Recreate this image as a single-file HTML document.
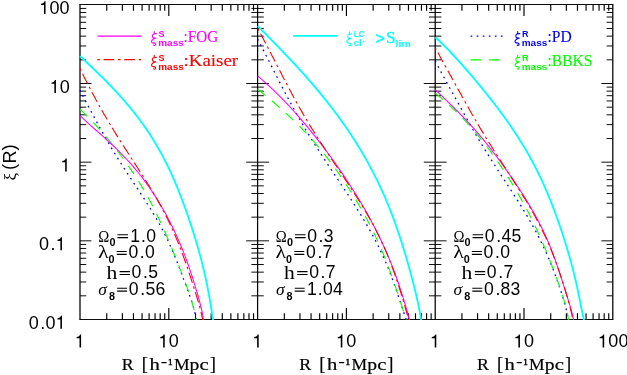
<!DOCTYPE html>
<html><head><meta charset="utf-8"><title>xi(R)</title>
<style>html,body{margin:0;padding:0;background:#fff;}body{width:627px;height:375px;overflow:hidden;}svg{display:block;will-change:transform;}text{font-family:"Liberation Sans",sans-serif;}.sf{font-family:"Liberation Serif",serif;}.sb{font-family:"Liberation Sans",sans-serif;font-weight:bold;}</style></head><body>
<svg width="627" height="375" viewBox="0 0 627 375">
<rect width="627" height="375" fill="#fff"/>
<defs><clipPath id="cp"><rect x="77.0" y="4.5" width="535.8" height="315.55"/></clipPath></defs>
<path d="M80.00,295.82H86.20M80.00,281.97H86.20M80.00,272.14H86.20M80.00,264.52H86.20M80.00,258.29H86.20M80.00,253.02H86.20M80.00,248.46H86.20M80.00,244.44H86.20M80.00,240.84H91.40M80.00,217.16H86.20M80.00,203.31H86.20M80.00,193.48H86.20M80.00,185.85H86.20M80.00,179.63H86.20M80.00,174.36H86.20M80.00,169.80H86.20M80.00,165.77H86.20M80.00,162.18H91.40M80.00,138.50H86.20M80.00,124.64H86.20M80.00,114.82H86.20M80.00,107.19H86.20M80.00,100.96H86.20M80.00,95.70H86.20M80.00,91.14H86.20M80.00,87.11H86.20M80.00,83.51H91.40M80.00,59.83H86.20M80.00,45.98H86.20M80.00,36.15H86.20M80.00,28.53H86.20M80.00,22.30H86.20M80.00,17.03H86.20M80.00,12.47H86.20M80.00,8.45H86.20M257.60,295.82H263.80M251.40,295.82H257.60M257.60,281.97H263.80M251.40,281.97H257.60M257.60,272.14H263.80M251.40,272.14H257.60M257.60,264.52H263.80M251.40,264.52H257.60M257.60,258.29H263.80M251.40,258.29H257.60M257.60,253.02H263.80M251.40,253.02H257.60M257.60,248.46H263.80M251.40,248.46H257.60M257.60,244.44H263.80M251.40,244.44H257.60M257.60,240.84H269.00M246.20,240.84H257.60M257.60,217.16H263.80M251.40,217.16H257.60M257.60,203.31H263.80M251.40,203.31H257.60M257.60,193.48H263.80M251.40,193.48H257.60M257.60,185.85H263.80M251.40,185.85H257.60M257.60,179.63H263.80M251.40,179.63H257.60M257.60,174.36H263.80M251.40,174.36H257.60M257.60,169.80H263.80M251.40,169.80H257.60M257.60,165.77H263.80M251.40,165.77H257.60M257.60,162.18H269.00M246.20,162.18H257.60M257.60,138.50H263.80M251.40,138.50H257.60M257.60,124.64H263.80M251.40,124.64H257.60M257.60,114.82H263.80M251.40,114.82H257.60M257.60,107.19H263.80M251.40,107.19H257.60M257.60,100.96H263.80M251.40,100.96H257.60M257.60,95.70H263.80M251.40,95.70H257.60M257.60,91.14H263.80M251.40,91.14H257.60M257.60,87.11H263.80M251.40,87.11H257.60M257.60,83.51H269.00M246.20,83.51H257.60M257.60,59.83H263.80M251.40,59.83H257.60M257.60,45.98H263.80M251.40,45.98H257.60M257.60,36.15H263.80M251.40,36.15H257.60M257.60,28.53H263.80M251.40,28.53H257.60M257.60,22.30H263.80M251.40,22.30H257.60M257.60,17.03H263.80M251.40,17.03H257.60M257.60,12.47H263.80M251.40,12.47H257.60M257.60,8.45H263.80M251.40,8.45H257.60M435.20,295.82H441.40M429.00,295.82H435.20M435.20,281.97H441.40M429.00,281.97H435.20M435.20,272.14H441.40M429.00,272.14H435.20M435.20,264.52H441.40M429.00,264.52H435.20M435.20,258.29H441.40M429.00,258.29H435.20M435.20,253.02H441.40M429.00,253.02H435.20M435.20,248.46H441.40M429.00,248.46H435.20M435.20,244.44H441.40M429.00,244.44H435.20M435.20,240.84H446.60M423.80,240.84H435.20M435.20,217.16H441.40M429.00,217.16H435.20M435.20,203.31H441.40M429.00,203.31H435.20M435.20,193.48H441.40M429.00,193.48H435.20M435.20,185.85H441.40M429.00,185.85H435.20M435.20,179.63H441.40M429.00,179.63H435.20M435.20,174.36H441.40M429.00,174.36H435.20M435.20,169.80H441.40M429.00,169.80H435.20M435.20,165.77H441.40M429.00,165.77H435.20M435.20,162.18H446.60M423.80,162.18H435.20M435.20,138.50H441.40M429.00,138.50H435.20M435.20,124.64H441.40M429.00,124.64H435.20M435.20,114.82H441.40M429.00,114.82H435.20M435.20,107.19H441.40M429.00,107.19H435.20M435.20,100.96H441.40M429.00,100.96H435.20M435.20,95.70H441.40M429.00,95.70H435.20M435.20,91.14H441.40M429.00,91.14H435.20M435.20,87.11H441.40M429.00,87.11H435.20M435.20,83.51H446.60M423.80,83.51H435.20M435.20,59.83H441.40M429.00,59.83H435.20M435.20,45.98H441.40M429.00,45.98H435.20M435.20,36.15H441.40M429.00,36.15H435.20M435.20,28.53H441.40M429.00,28.53H435.20M435.20,22.30H441.40M429.00,22.30H435.20M435.20,17.03H441.40M429.00,17.03H435.20M435.20,12.47H441.40M429.00,12.47H435.20M435.20,8.45H441.40M429.00,8.45H435.20M606.60,295.82H612.80M606.60,281.97H612.80M606.60,272.14H612.80M606.60,264.52H612.80M606.60,258.29H612.80M606.60,253.02H612.80M606.60,248.46H612.80M606.60,244.44H612.80M601.40,240.84H612.80M606.60,217.16H612.80M606.60,203.31H612.80M606.60,193.48H612.80M606.60,185.85H612.80M606.60,179.63H612.80M606.60,174.36H612.80M606.60,169.80H612.80M606.60,165.77H612.80M601.40,162.18H612.80M606.60,138.50H612.80M606.60,124.64H612.80M606.60,114.82H612.80M606.60,107.19H612.80M606.60,100.96H612.80M606.60,95.70H612.80M606.60,91.14H612.80M606.60,87.11H612.80M601.40,83.51H612.80M606.60,59.83H612.80M606.60,45.98H612.80M606.60,36.15H612.80M606.60,28.53H612.80M606.60,22.30H612.80M606.60,17.03H612.80M606.60,12.47H612.80M606.60,8.45H612.80" stroke="#000" stroke-width="0.95" fill="none"/>
<path d="M106.73,319.50V313.30M106.73,4.50V10.70M122.37,319.50V313.30M122.37,4.50V10.70M133.46,319.50V313.30M133.46,4.50V10.70M142.07,319.50V313.30M142.07,4.50V10.70M149.10,319.50V313.30M149.10,4.50V10.70M155.04,319.50V313.30M155.04,4.50V10.70M160.19,319.50V313.30M160.19,4.50V10.70M164.74,319.50V313.30M164.74,4.50V10.70M168.80,319.50V308.10M168.80,4.50V15.90M195.53,319.50V313.30M195.53,4.50V10.70M211.17,319.50V313.30M211.17,4.50V10.70M222.26,319.50V313.30M222.26,4.50V10.70M230.87,319.50V313.30M230.87,4.50V10.70M237.90,319.50V313.30M237.90,4.50V10.70M243.84,319.50V313.30M243.84,4.50V10.70M248.99,319.50V313.30M248.99,4.50V10.70M253.54,319.50V313.30M253.54,4.50V10.70M284.33,319.50V313.30M284.33,4.50V10.70M299.97,319.50V313.30M299.97,4.50V10.70M311.06,319.50V313.30M311.06,4.50V10.70M319.67,319.50V313.30M319.67,4.50V10.70M326.70,319.50V313.30M326.70,4.50V10.70M332.64,319.50V313.30M332.64,4.50V10.70M337.79,319.50V313.30M337.79,4.50V10.70M342.34,319.50V313.30M342.34,4.50V10.70M346.40,319.50V308.10M346.40,4.50V15.90M373.13,319.50V313.30M373.13,4.50V10.70M388.77,319.50V313.30M388.77,4.50V10.70M399.86,319.50V313.30M399.86,4.50V10.70M408.47,319.50V313.30M408.47,4.50V10.70M415.50,319.50V313.30M415.50,4.50V10.70M421.44,319.50V313.30M421.44,4.50V10.70M426.59,319.50V313.30M426.59,4.50V10.70M431.14,319.50V313.30M431.14,4.50V10.70M461.93,319.50V313.30M461.93,4.50V10.70M477.57,319.50V313.30M477.57,4.50V10.70M488.66,319.50V313.30M488.66,4.50V10.70M497.27,319.50V313.30M497.27,4.50V10.70M504.30,319.50V313.30M504.30,4.50V10.70M510.24,319.50V313.30M510.24,4.50V10.70M515.39,319.50V313.30M515.39,4.50V10.70M519.94,319.50V313.30M519.94,4.50V10.70M524.00,319.50V308.10M524.00,4.50V15.90M550.73,319.50V313.30M550.73,4.50V10.70M566.37,319.50V313.30M566.37,4.50V10.70M577.46,319.50V313.30M577.46,4.50V10.70M586.07,319.50V313.30M586.07,4.50V10.70M593.10,319.50V313.30M593.10,4.50V10.70M599.04,319.50V313.30M599.04,4.50V10.70M604.19,319.50V313.30M604.19,4.50V10.70M608.74,319.50V313.30M608.74,4.50V10.70" stroke="#000" stroke-width="1.15" fill="none"/>
<path d="M79.4,4.5H613.4M79.4,319.5H613.4" stroke="#000" stroke-width="0.95" fill="none"/>
<path d="M80.0,4.5V319.5M257.60,4.5V319.5M435.20,4.5V319.5M612.8,4.5V319.5" stroke="#000" stroke-width="1.25" fill="none"/>
<g fill="none" clip-path="url(#cp)" stroke-linecap="butt" stroke-linejoin="round">
<path d="M80.00,56.10 L82.03,58.00 L84.07,59.90 L86.09,61.81 L88.11,63.71 L90.12,65.61 L92.12,67.51 L94.10,69.42 L96.08,71.32 L98.04,73.22 L99.98,75.12 L101.91,77.02 L103.83,78.93 L105.72,80.83 L107.60,82.73 L109.45,84.63 L111.29,86.53 L113.11,88.44 L114.90,90.34 L116.67,92.24 L118.42,94.14 L120.15,96.05 L121.86,97.95 L123.54,99.85 L125.19,101.75 L126.83,103.65 L128.44,105.56 L130.02,107.46 L131.58,109.36 L133.12,111.26 L134.63,113.16 L136.12,115.07 L137.58,116.97 L139.02,118.87 L140.44,120.77 L141.83,122.68 L143.20,124.58 L144.54,126.48 L145.86,128.38 L147.16,130.28 L148.43,132.19 L149.69,134.09 L150.92,135.99 L152.12,137.89 L153.31,139.79 L154.48,141.70 L155.62,143.60 L156.74,145.50 L157.85,147.40 L158.93,149.31 L160.00,151.21 L161.05,153.11 L162.08,155.01 L163.09,156.91 L164.08,158.82 L165.06,160.72 L166.02,162.62 L166.96,164.52 L167.89,166.43 L168.81,168.33 L169.70,170.23 L170.59,172.13 L171.46,174.03 L172.32,175.94 L173.16,177.84 L174.00,179.74 L174.82,181.64 L175.63,183.54 L176.42,185.45 L177.21,187.35 L177.99,189.25 L178.75,191.15 L179.51,193.06 L180.25,194.96 L180.99,196.86 L181.72,198.76 L182.44,200.66 L183.15,202.57 L183.85,204.47 L184.54,206.37 L185.23,208.27 L185.91,210.17 L186.58,212.08 L187.25,213.98 L187.90,215.88 L188.55,217.78 L189.20,219.69 L189.84,221.59 L190.47,223.49 L191.09,225.39 L191.71,227.29 L192.32,229.20 L192.92,231.10 L193.52,233.00 L194.11,234.90 L194.69,236.81 L195.27,238.71 L195.84,240.61 L196.41,242.51 L196.97,244.41 L197.52,246.32 L198.06,248.22 L198.60,250.12 L199.13,252.02 L199.65,253.92 L200.17,255.83 L200.67,257.73 L201.17,259.63 L201.67,261.53 L202.15,263.44 L202.63,265.34 L203.10,267.24 L203.56,269.14 L204.01,271.04 L204.45,272.95 L204.89,274.85 L205.32,276.75 L205.74,278.65 L206.15,280.55 L206.55,282.46 L206.94,284.36 L207.33,286.26 L207.70,288.16 L208.07,290.07 L208.43,291.97 L208.79,293.87 L209.13,295.77 L209.47,297.67 L209.80,299.58 L210.13,301.48 L210.45,303.38 L210.76,305.28 L211.07,307.18 L211.38,309.09 L211.68,310.99 L211.97,312.89 L212.27,314.79 L212.56,316.70 L212.86,318.60 L213.15,320.50" stroke="#00ffff" stroke-width="1.85"/>
<path d="M80.00,90.40 L80.85,92.06 L81.70,93.71 L82.56,95.37 L83.42,97.02 L84.29,98.68 L85.16,100.33 L86.04,101.99 L86.92,103.64 L87.80,105.30 L88.68,106.95 L89.56,108.61 L90.44,110.26 L91.33,111.92 L92.22,113.58 L93.11,115.23 L94.00,116.89 L94.89,118.54 L95.78,120.20 L96.68,121.85 L97.58,123.51 L98.48,125.16 L99.39,126.82 L100.30,128.47 L101.21,130.13 L102.13,131.78 L103.06,133.44 L103.99,135.10 L104.92,136.75 L105.86,138.41 L106.81,140.06 L107.77,141.72 L108.73,143.37 L109.70,145.03 L110.68,146.68 L111.66,148.34 L112.65,149.99 L113.65,151.65 L114.66,153.31 L115.67,154.96 L116.69,156.62 L117.72,158.27 L118.76,159.93 L119.80,161.58 L120.85,163.24 L121.91,164.89 L122.97,166.55 L124.04,168.20 L125.11,169.86 L126.19,171.51 L127.27,173.17 L128.36,174.83 L129.45,176.48 L130.54,178.14 L131.64,179.79 L132.73,181.45 L133.83,183.10 L134.93,184.76 L136.03,186.41 L137.12,188.07 L138.22,189.72 L139.31,191.38 L140.40,193.03 L141.48,194.69 L142.57,196.35 L143.64,198.00 L144.71,199.66 L145.78,201.31 L146.83,202.97 L147.88,204.62 L148.92,206.28 L149.95,207.93 L150.98,209.59 L151.99,211.24 L152.99,212.90 L153.98,214.55 L154.96,216.21 L155.93,217.87 L156.88,219.52 L157.83,221.18 L158.76,222.83 L159.67,224.49 L160.58,226.14 L161.47,227.80 L162.35,229.45 L163.21,231.11 L164.06,232.76 L164.90,234.42 L165.72,236.07 L166.53,237.73 L167.32,239.39 L168.11,241.04 L168.88,242.70 L169.64,244.35 L170.38,246.01 L171.12,247.66 L171.84,249.32 L172.56,250.97 L173.26,252.63 L173.95,254.28 L174.64,255.94 L175.32,257.59 L175.98,259.25 L176.64,260.91 L177.30,262.56 L177.95,264.22 L178.59,265.87 L179.23,267.53 L179.86,269.18 L180.49,270.84 L181.12,272.49 L181.74,274.15 L182.37,275.80 L182.99,277.46 L183.60,279.12 L184.22,280.77 L184.83,282.43 L185.45,284.08 L186.06,285.74 L186.67,287.39 L187.28,289.05 L187.88,290.70 L188.48,292.36 L189.08,294.01 L189.67,295.67 L190.25,297.32 L190.82,298.98 L191.39,300.64 L191.94,302.29 L192.47,303.95 L192.99,305.60 L193.49,307.26 L193.96,308.91 L194.40,310.57 L194.81,312.22 L195.18,313.88 L195.51,315.53 L195.80,317.19 L196.03,318.84 L196.19,320.50" stroke="#0000ff" stroke-width="1.3" stroke-dasharray="1.7 4.28" stroke-dashoffset="0.5"/>
<path d="M80.00,109.40 L81.65,110.92 L83.27,112.44 L84.86,113.96 L86.43,115.47 L87.96,116.99 L89.47,118.51 L90.95,120.03 L92.41,121.55 L93.85,123.07 L95.27,124.59 L96.67,126.11 L98.05,127.62 L99.41,129.14 L100.76,130.66 L102.09,132.18 L103.40,133.70 L104.70,135.22 L105.99,136.74 L107.26,138.26 L108.52,139.77 L109.77,141.29 L111.01,142.81 L112.23,144.33 L113.44,145.85 L114.64,147.37 L115.82,148.89 L117.00,150.41 L118.16,151.92 L119.32,153.44 L120.46,154.96 L121.59,156.48 L122.71,158.00 L123.82,159.52 L124.92,161.04 L126.01,162.55 L127.09,164.07 L128.15,165.59 L129.21,167.11 L130.25,168.63 L131.29,170.15 L132.31,171.67 L133.32,173.19 L134.32,174.70 L135.32,176.22 L136.30,177.74 L137.26,179.26 L138.22,180.78 L139.17,182.30 L140.11,183.82 L141.03,185.34 L141.95,186.85 L142.86,188.37 L143.75,189.89 L144.64,191.41 L145.51,192.93 L146.37,194.45 L147.23,195.97 L148.07,197.48 L148.91,199.00 L149.73,200.52 L150.55,202.04 L151.35,203.56 L152.15,205.08 L152.93,206.60 L153.71,208.12 L154.48,209.63 L155.24,211.15 L156.00,212.67 L156.74,214.19 L157.48,215.71 L158.21,217.23 L158.93,218.75 L159.65,220.27 L160.36,221.78 L161.06,223.30 L161.75,224.82 L162.44,226.34 L163.13,227.86 L163.80,229.38 L164.48,230.90 L165.14,232.42 L165.81,233.93 L166.46,235.45 L167.12,236.97 L167.76,238.49 L168.41,240.01 L169.05,241.53 L169.69,243.05 L170.32,244.56 L170.95,246.08 L171.58,247.60 L172.20,249.12 L172.83,250.64 L173.44,252.16 L174.06,253.68 L174.67,255.20 L175.29,256.71 L175.89,258.23 L176.50,259.75 L177.10,261.27 L177.71,262.79 L178.31,264.31 L178.90,265.83 L179.50,267.35 L180.09,268.86 L180.68,270.38 L181.26,271.90 L181.85,273.42 L182.43,274.94 L183.00,276.46 L183.58,277.98 L184.15,279.49 L184.71,281.01 L185.27,282.53 L185.83,284.05 L186.38,285.57 L186.93,287.09 L187.47,288.61 L188.00,290.13 L188.52,291.64 L189.04,293.16 L189.56,294.68 L190.06,296.20 L190.55,297.72 L191.04,299.24 L191.51,300.76 L191.98,302.28 L192.43,303.79 L192.87,305.31 L193.30,306.83 L193.72,308.35 L194.12,309.87 L194.51,311.39 L194.88,312.91 L195.23,314.43 L195.57,315.94 L195.90,317.46 L196.20,318.98 L196.49,320.50" stroke="#00ff00" stroke-width="1.1" stroke-dasharray="10.1 8.5" stroke-dashoffset="0"/>
<path d="M80.00,115.50 L81.49,116.97 L83.02,118.45 L84.58,119.92 L86.18,121.40 L87.79,122.87 L89.42,124.35 L91.07,125.82 L92.72,127.30 L94.39,128.77 L96.05,130.25 L97.72,131.72 L99.38,133.20 L101.04,134.67 L102.70,136.15 L104.34,137.62 L105.98,139.10 L107.60,140.57 L109.20,142.05 L110.79,143.52 L112.37,145.00 L113.93,146.47 L115.47,147.95 L116.99,149.42 L118.49,150.90 L119.97,152.37 L121.43,153.85 L122.88,155.32 L124.30,156.79 L125.69,158.27 L127.07,159.74 L128.43,161.22 L129.77,162.69 L131.08,164.17 L132.38,165.64 L133.66,167.12 L134.91,168.59 L136.15,170.07 L137.36,171.54 L138.56,173.02 L139.74,174.49 L140.90,175.97 L142.04,177.44 L143.17,178.92 L144.28,180.39 L145.37,181.87 L146.45,183.34 L147.51,184.82 L148.55,186.29 L149.58,187.77 L150.59,189.24 L151.59,190.72 L152.58,192.19 L153.55,193.67 L154.51,195.14 L155.46,196.62 L156.39,198.09 L157.31,199.56 L158.22,201.04 L159.12,202.51 L160.00,203.99 L160.88,205.46 L161.74,206.94 L162.59,208.41 L163.43,209.89 L164.27,211.36 L165.09,212.84 L165.90,214.31 L166.70,215.79 L167.49,217.26 L168.27,218.74 L169.04,220.21 L169.80,221.69 L170.55,223.16 L171.29,224.64 L172.03,226.11 L172.75,227.59 L173.46,229.06 L174.17,230.54 L174.86,232.01 L175.55,233.49 L176.23,234.96 L176.90,236.44 L177.56,237.91 L178.21,239.38 L178.85,240.86 L179.49,242.33 L180.11,243.81 L180.73,245.28 L181.34,246.76 L181.94,248.23 L182.54,249.71 L183.12,251.18 L183.70,252.66 L184.27,254.13 L184.84,255.61 L185.39,257.08 L185.94,258.56 L186.48,260.03 L187.02,261.51 L187.55,262.98 L188.07,264.46 L188.59,265.93 L189.10,267.41 L189.61,268.88 L190.11,270.36 L190.60,271.83 L191.09,273.31 L191.58,274.78 L192.06,276.26 L192.53,277.73 L193.01,279.21 L193.47,280.68 L193.94,282.15 L194.40,283.63 L194.85,285.10 L195.30,286.58 L195.75,288.05 L196.19,289.53 L196.63,291.00 L197.06,292.48 L197.49,293.95 L197.92,295.43 L198.34,296.90 L198.75,298.38 L199.15,299.85 L199.55,301.33 L199.94,302.80 L200.32,304.28 L200.69,305.75 L201.05,307.23 L201.40,308.70 L201.74,310.18 L202.05,311.65 L202.35,313.13 L202.63,314.60 L202.89,316.08 L203.13,317.55 L203.34,319.03 L203.52,320.50" stroke="#ff00ff" stroke-width="1.05"/>
<path d="M80.00,68.60 L80.88,70.41 L81.77,72.22 L82.67,74.04 L83.57,75.85 L84.47,77.66 L85.38,79.47 L86.30,81.29 L87.22,83.10 L88.15,84.91 L89.09,86.72 L90.03,88.53 L90.97,90.35 L91.93,92.16 L92.89,93.97 L93.85,95.78 L94.83,97.60 L95.81,99.41 L96.80,101.22 L97.79,103.03 L98.79,104.84 L99.80,106.66 L100.82,108.47 L101.85,110.28 L102.88,112.09 L103.92,113.91 L104.97,115.72 L106.03,117.53 L107.09,119.34 L108.16,121.15 L109.24,122.97 L110.33,124.78 L111.43,126.59 L112.53,128.40 L113.64,130.22 L114.75,132.03 L115.87,133.84 L117.00,135.65 L118.14,137.46 L119.28,139.28 L120.42,141.09 L121.57,142.90 L122.72,144.71 L123.88,146.53 L125.04,148.34 L126.21,150.15 L127.38,151.96 L128.55,153.77 L129.72,155.59 L130.89,157.40 L132.06,159.21 L133.24,161.02 L134.41,162.84 L135.58,164.65 L136.75,166.46 L137.92,168.27 L139.08,170.08 L140.24,171.90 L141.40,173.71 L142.55,175.52 L143.70,177.33 L144.84,179.15 L145.97,180.96 L147.10,182.77 L148.22,184.58 L149.34,186.39 L150.44,188.21 L151.54,190.02 L152.62,191.83 L153.70,193.64 L154.77,195.46 L155.82,197.27 L156.87,199.08 L157.90,200.89 L158.92,202.71 L159.93,204.52 L160.93,206.33 L161.92,208.14 L162.89,209.95 L163.85,211.77 L164.79,213.58 L165.72,215.39 L166.64,217.20 L167.55,219.02 L168.44,220.83 L169.32,222.64 L170.18,224.45 L171.03,226.26 L171.87,228.08 L172.69,229.89 L173.50,231.70 L174.30,233.51 L175.09,235.33 L175.86,237.14 L176.62,238.95 L177.37,240.76 L178.11,242.57 L178.84,244.39 L179.55,246.20 L180.26,248.01 L180.95,249.82 L181.64,251.64 L182.32,253.45 L182.98,255.26 L183.64,257.07 L184.30,258.88 L184.94,260.70 L185.58,262.51 L186.21,264.32 L186.84,266.13 L187.46,267.95 L188.07,269.76 L188.68,271.57 L189.29,273.38 L189.89,275.19 L190.49,277.01 L191.08,278.82 L191.67,280.63 L192.26,282.44 L192.84,284.26 L193.42,286.07 L194.00,287.88 L194.57,289.69 L195.14,291.50 L195.70,293.32 L196.26,295.13 L196.81,296.94 L197.35,298.75 L197.89,300.57 L198.42,302.38 L198.93,304.19 L199.43,306.00 L199.92,307.81 L200.40,309.63 L200.85,311.44 L201.29,313.25 L201.70,315.06 L202.09,316.88 L202.45,318.69 L202.77,320.50" stroke="#ff0000" stroke-width="1.1" stroke-dasharray="2.5 3.55 10.85 3.65" stroke-dashoffset="0.2"/>
<path d="M257.70,26.00 L259.79,28.12 L261.88,30.24 L263.98,32.36 L266.07,34.47 L268.16,36.59 L270.24,38.71 L272.32,40.83 L274.40,42.95 L276.46,45.07 L278.52,47.19 L280.57,49.31 L282.61,51.42 L284.65,53.54 L286.67,55.66 L288.67,57.78 L290.67,59.90 L292.65,62.02 L294.63,64.14 L296.58,66.26 L298.53,68.37 L300.45,70.49 L302.37,72.61 L304.27,74.73 L306.15,76.85 L308.02,78.97 L309.87,81.09 L311.70,83.21 L313.52,85.32 L315.32,87.44 L317.11,89.56 L318.88,91.68 L320.63,93.80 L322.36,95.92 L324.08,98.04 L325.78,100.15 L327.46,102.27 L329.12,104.39 L330.77,106.51 L332.40,108.63 L334.01,110.75 L335.60,112.87 L337.18,114.99 L338.74,117.10 L340.27,119.22 L341.80,121.34 L343.30,123.46 L344.79,125.58 L346.25,127.70 L347.71,129.82 L349.14,131.94 L350.55,134.05 L351.95,136.17 L353.33,138.29 L354.69,140.41 L356.03,142.53 L357.36,144.65 L358.67,146.77 L359.96,148.88 L361.24,151.00 L362.49,153.12 L363.73,155.24 L364.95,157.36 L366.16,159.48 L367.35,161.60 L368.52,163.72 L369.68,165.83 L370.81,167.95 L371.93,170.07 L373.04,172.19 L374.13,174.31 L375.20,176.43 L376.26,178.55 L377.30,180.67 L378.32,182.78 L379.33,184.90 L380.33,187.02 L381.31,189.14 L382.27,191.26 L383.22,193.38 L384.16,195.50 L385.08,197.62 L385.98,199.73 L386.88,201.85 L387.76,203.97 L388.62,206.09 L389.47,208.21 L390.31,210.33 L391.14,212.45 L391.96,214.56 L392.76,216.68 L393.55,218.80 L394.33,220.92 L395.10,223.04 L395.85,225.16 L396.60,227.28 L397.33,229.40 L398.06,231.51 L398.77,233.63 L399.48,235.75 L400.18,237.87 L400.87,239.99 L401.54,242.11 L402.21,244.23 L402.88,246.35 L403.53,248.46 L404.18,250.58 L404.82,252.70 L405.45,254.82 L406.07,256.94 L406.69,259.06 L407.30,261.18 L407.91,263.29 L408.51,265.41 L409.10,267.53 L409.69,269.65 L410.27,271.77 L410.84,273.89 L411.41,276.01 L411.97,278.13 L412.52,280.24 L413.07,282.36 L413.61,284.48 L414.14,286.60 L414.67,288.72 L415.19,290.84 L415.70,292.96 L416.20,295.08 L416.69,297.19 L417.18,299.31 L417.65,301.43 L418.11,303.55 L418.56,305.67 L418.99,307.79 L419.41,309.91 L419.82,312.03 L420.20,314.14 L420.57,316.26 L420.92,318.38 L421.25,320.50" stroke="#00ffff" stroke-width="1.85"/>
<path d="M257.60,39.00 L258.65,41.03 L259.71,43.05 L260.75,45.08 L261.80,47.10 L262.84,49.13 L263.89,51.15 L264.92,53.18 L265.96,55.20 L266.99,57.23 L268.02,59.25 L269.05,61.28 L270.08,63.30 L271.11,65.33 L272.14,67.35 L273.16,69.38 L274.19,71.40 L275.22,73.43 L276.24,75.45 L277.27,77.48 L278.30,79.50 L279.34,81.53 L280.38,83.55 L281.42,85.58 L282.46,87.60 L283.51,89.63 L284.57,91.65 L285.62,93.68 L286.69,95.71 L287.76,97.73 L288.84,99.76 L289.93,101.78 L291.02,103.81 L292.12,105.83 L293.23,107.86 L294.35,109.88 L295.47,111.91 L296.61,113.93 L297.75,115.96 L298.90,117.98 L300.06,120.01 L301.24,122.03 L302.42,124.06 L303.61,126.08 L304.81,128.11 L306.02,130.13 L307.24,132.16 L308.47,134.18 L309.70,136.21 L310.95,138.23 L312.21,140.26 L313.47,142.28 L314.75,144.31 L316.03,146.33 L317.32,148.36 L318.62,150.38 L319.92,152.41 L321.23,154.44 L322.55,156.46 L323.87,158.49 L325.20,160.51 L326.54,162.54 L327.88,164.56 L329.22,166.59 L330.57,168.61 L331.92,170.64 L333.27,172.66 L334.62,174.69 L335.98,176.71 L337.33,178.74 L338.68,180.76 L340.04,182.79 L341.39,184.81 L342.74,186.84 L344.09,188.86 L345.43,190.89 L346.77,192.91 L348.10,194.94 L349.43,196.96 L350.75,198.99 L352.07,201.01 L353.37,203.04 L354.67,205.06 L355.96,207.09 L357.24,209.12 L358.51,211.14 L359.77,213.17 L361.02,215.19 L362.25,217.22 L363.47,219.24 L364.68,221.27 L365.88,223.29 L367.06,225.32 L368.23,227.34 L369.38,229.37 L370.51,231.39 L371.63,233.42 L372.74,235.44 L373.83,237.47 L374.90,239.49 L375.95,241.52 L376.99,243.54 L378.01,245.57 L379.01,247.59 L379.99,249.62 L380.96,251.64 L381.91,253.67 L382.84,255.69 L383.76,257.72 L384.66,259.74 L385.54,261.77 L386.40,263.79 L387.25,265.82 L388.08,267.85 L388.90,269.87 L389.70,271.90 L390.49,273.92 L391.26,275.95 L392.02,277.97 L392.77,280.00 L393.50,282.02 L394.23,284.05 L394.94,286.07 L395.65,288.10 L396.34,290.12 L397.03,292.15 L397.71,294.17 L398.39,296.20 L399.06,298.22 L399.73,300.25 L400.40,302.27 L401.07,304.30 L401.74,306.32 L402.41,308.35 L403.08,310.37 L403.76,312.40 L404.45,314.42 L405.14,316.45 L405.85,318.47 L406.56,320.50" stroke="#0000ff" stroke-width="1.3" stroke-dasharray="1.7 4.28" stroke-dashoffset="0"/>
<path d="M257.60,89.20 L259.68,90.86 L261.74,92.53 L263.79,94.19 L265.83,95.86 L267.85,97.52 L269.85,99.18 L271.83,100.85 L273.79,102.51 L275.73,104.18 L277.66,105.84 L279.56,107.50 L281.44,109.17 L283.30,110.83 L285.13,112.50 L286.95,114.16 L288.74,115.82 L290.51,117.49 L292.26,119.15 L293.99,120.82 L295.70,122.48 L297.38,124.14 L299.04,125.81 L300.68,127.47 L302.30,129.14 L303.90,130.80 L305.48,132.46 L307.04,134.13 L308.57,135.79 L310.09,137.46 L311.59,139.12 L313.07,140.78 L314.53,142.45 L315.97,144.11 L317.39,145.78 L318.80,147.44 L320.19,149.11 L321.56,150.77 L322.92,152.43 L324.26,154.10 L325.58,155.76 L326.89,157.43 L328.18,159.09 L329.46,160.75 L330.72,162.42 L331.97,164.08 L333.21,165.75 L334.43,167.41 L335.64,169.07 L336.83,170.74 L338.02,172.40 L339.19,174.07 L340.35,175.73 L341.50,177.39 L342.63,179.06 L343.76,180.72 L344.87,182.39 L345.97,184.05 L347.06,185.71 L348.14,187.38 L349.21,189.04 L350.27,190.71 L351.32,192.37 L352.36,194.03 L353.39,195.70 L354.41,197.36 L355.42,199.03 L356.42,200.69 L357.41,202.35 L358.39,204.02 L359.36,205.68 L360.32,207.35 L361.27,209.01 L362.21,210.67 L363.14,212.34 L364.07,214.00 L364.98,215.67 L365.88,217.33 L366.77,218.99 L367.66,220.66 L368.53,222.32 L369.40,223.99 L370.25,225.65 L371.10,227.31 L371.93,228.98 L372.76,230.64 L373.57,232.31 L374.38,233.97 L375.18,235.63 L375.96,237.30 L376.74,238.96 L377.51,240.63 L378.27,242.29 L379.02,243.95 L379.76,245.62 L380.49,247.28 L381.21,248.95 L381.92,250.61 L382.63,252.27 L383.32,253.94 L384.00,255.60 L384.68,257.27 L385.35,258.93 L386.01,260.59 L386.66,262.26 L387.30,263.92 L387.94,265.59 L388.57,267.25 L389.19,268.92 L389.80,270.58 L390.41,272.24 L391.01,273.91 L391.60,275.57 L392.19,277.24 L392.77,278.90 L393.35,280.56 L393.92,282.23 L394.48,283.89 L395.05,285.56 L395.61,287.22 L396.16,288.88 L396.71,290.55 L397.26,292.21 L397.81,293.88 L398.36,295.54 L398.90,297.20 L399.45,298.87 L399.99,300.53 L400.53,302.20 L401.08,303.86 L401.62,305.52 L402.17,307.19 L402.72,308.85 L403.27,310.52 L403.82,312.18 L404.38,313.84 L404.94,315.51 L405.50,317.17 L406.07,318.84 L406.65,320.50" stroke="#00ff00" stroke-width="1.1" stroke-dasharray="10.1 8.5" stroke-dashoffset="0"/>
<path d="M257.60,75.80 L259.65,77.56 L261.67,79.32 L263.66,81.08 L265.61,82.84 L267.54,84.60 L269.45,86.36 L271.32,88.12 L273.17,89.88 L275.00,91.64 L276.80,93.40 L278.57,95.16 L280.33,96.93 L282.06,98.69 L283.77,100.45 L285.47,102.21 L287.14,103.97 L288.79,105.73 L290.42,107.49 L292.04,109.25 L293.64,111.01 L295.22,112.77 L296.79,114.53 L298.34,116.29 L299.88,118.05 L301.40,119.81 L302.90,121.57 L304.40,123.33 L305.88,125.09 L307.34,126.85 L308.80,128.61 L310.24,130.37 L311.66,132.13 L313.08,133.89 L314.49,135.65 L315.88,137.42 L317.27,139.18 L318.64,140.94 L320.00,142.70 L321.35,144.46 L322.69,146.22 L324.02,147.98 L325.35,149.74 L326.66,151.50 L327.96,153.26 L329.26,155.02 L330.54,156.78 L331.81,158.54 L333.08,160.30 L334.34,162.06 L335.58,163.82 L336.82,165.58 L338.05,167.34 L339.27,169.10 L340.49,170.86 L341.69,172.62 L342.89,174.38 L344.07,176.14 L345.25,177.91 L346.42,179.67 L347.58,181.43 L348.73,183.19 L349.87,184.95 L351.00,186.71 L352.13,188.47 L353.24,190.23 L354.35,191.99 L355.45,193.75 L356.54,195.51 L357.62,197.27 L358.69,199.03 L359.75,200.79 L360.80,202.55 L361.84,204.31 L362.87,206.07 L363.90,207.83 L364.91,209.59 L365.92,211.35 L366.91,213.11 L367.90,214.87 L368.87,216.63 L369.84,218.39 L370.79,220.16 L371.74,221.92 L372.67,223.68 L373.60,225.44 L374.52,227.20 L375.42,228.96 L376.32,230.72 L377.20,232.48 L378.08,234.24 L378.94,236.00 L379.80,237.76 L380.64,239.52 L381.48,241.28 L382.30,243.04 L383.12,244.80 L383.92,246.56 L384.71,248.32 L385.50,250.08 L386.27,251.84 L387.04,253.60 L387.79,255.36 L388.53,257.12 L389.27,258.88 L389.99,260.65 L390.70,262.41 L391.41,264.17 L392.10,265.93 L392.79,267.69 L393.46,269.45 L394.13,271.21 L394.79,272.97 L395.43,274.73 L396.07,276.49 L396.70,278.25 L397.32,280.01 L397.94,281.77 L398.54,283.53 L399.14,285.29 L399.73,287.05 L400.31,288.81 L400.88,290.57 L401.45,292.33 L402.01,294.09 L402.56,295.85 L403.10,297.61 L403.64,299.37 L404.17,301.14 L404.70,302.90 L405.22,304.66 L405.73,306.42 L406.24,308.18 L406.74,309.94 L407.24,311.70 L407.74,313.46 L408.23,315.22 L408.71,316.98 L409.19,318.74 L409.67,320.50" stroke="#ff00ff" stroke-width="1.05"/>
<path d="M257.70,28.30 L258.81,30.40 L259.91,32.50 L261.02,34.61 L262.13,36.71 L263.24,38.81 L264.35,40.91 L265.45,43.02 L266.56,45.12 L267.66,47.22 L268.76,49.32 L269.85,51.42 L270.94,53.53 L272.03,55.63 L273.12,57.73 L274.21,59.83 L275.29,61.93 L276.37,64.04 L277.45,66.14 L278.53,68.24 L279.62,70.34 L280.70,72.45 L281.78,74.55 L282.87,76.65 L283.96,78.75 L285.05,80.85 L286.14,82.96 L287.24,85.06 L288.35,87.16 L289.46,89.26 L290.58,91.36 L291.70,93.47 L292.84,95.57 L293.98,97.67 L295.12,99.77 L296.28,101.88 L297.45,103.98 L298.62,106.08 L299.81,108.18 L301.01,110.28 L302.21,112.39 L303.43,114.49 L304.66,116.59 L305.90,118.69 L307.15,120.79 L308.41,122.90 L309.68,125.00 L310.97,127.10 L312.26,129.20 L313.56,131.31 L314.88,133.41 L316.20,135.51 L317.53,137.61 L318.88,139.71 L320.23,141.82 L321.59,143.92 L322.95,146.02 L324.33,148.12 L325.71,150.23 L327.10,152.33 L328.49,154.43 L329.89,156.53 L331.29,158.63 L332.70,160.74 L334.10,162.84 L335.51,164.94 L336.92,167.04 L338.34,169.14 L339.75,171.25 L341.16,173.35 L342.56,175.45 L343.97,177.55 L345.37,179.66 L346.76,181.76 L348.16,183.86 L349.54,185.96 L350.92,188.06 L352.29,190.17 L353.65,192.27 L355.00,194.37 L356.34,196.47 L357.67,198.57 L358.99,200.68 L360.29,202.78 L361.59,204.88 L362.87,206.98 L364.13,209.09 L365.38,211.19 L366.61,213.29 L367.83,215.39 L369.04,217.49 L370.22,219.60 L371.39,221.70 L372.54,223.80 L373.67,225.90 L374.79,228.01 L375.88,230.11 L376.96,232.21 L378.02,234.31 L379.06,236.41 L380.08,238.52 L381.09,240.62 L382.07,242.72 L383.04,244.82 L383.98,246.92 L384.91,249.03 L385.82,251.13 L386.72,253.23 L387.60,255.33 L388.46,257.44 L389.30,259.54 L390.13,261.64 L390.94,263.74 L391.74,265.84 L392.52,267.95 L393.29,270.05 L394.04,272.15 L394.78,274.25 L395.51,276.35 L396.23,278.46 L396.94,280.56 L397.64,282.66 L398.32,284.76 L399.00,286.87 L399.67,288.97 L400.33,291.07 L400.98,293.17 L401.63,295.27 L402.27,297.38 L402.90,299.48 L403.53,301.58 L404.15,303.68 L404.76,305.78 L405.37,307.89 L405.97,309.99 L406.56,312.09 L407.15,314.19 L407.73,316.30 L408.31,318.40 L408.87,320.50" stroke="#ff0000" stroke-width="1.1" stroke-dasharray="2.5 3.55 10.85 3.65" stroke-dashoffset="-0.15"/>
<path d="M435.30,37.20 L437.51,39.24 L439.68,41.28 L441.80,43.31 L443.87,45.35 L445.91,47.39 L447.91,49.43 L449.87,51.47 L451.81,53.51 L453.73,55.54 L455.61,57.58 L457.48,59.62 L459.32,61.66 L461.15,63.70 L462.96,65.73 L464.75,67.77 L466.53,69.81 L468.29,71.85 L470.04,73.89 L471.78,75.92 L473.50,77.96 L475.22,80.00 L476.92,82.04 L478.61,84.08 L480.29,86.12 L481.95,88.15 L483.61,90.19 L485.25,92.23 L486.89,94.27 L488.51,96.31 L490.12,98.34 L491.71,100.38 L493.30,102.42 L494.87,104.46 L496.43,106.50 L497.97,108.53 L499.50,110.57 L501.02,112.61 L502.52,114.65 L504.01,116.69 L505.48,118.73 L506.93,120.76 L508.37,122.80 L509.79,124.84 L511.20,126.88 L512.59,128.92 L513.96,130.95 L515.31,132.99 L516.65,135.03 L517.97,137.07 L519.27,139.11 L520.55,141.14 L521.82,143.18 L523.06,145.22 L524.29,147.26 L525.50,149.30 L526.69,151.34 L527.87,153.37 L529.02,155.41 L530.16,157.45 L531.28,159.49 L532.38,161.53 L533.47,163.56 L534.53,165.60 L535.59,167.64 L536.62,169.68 L537.64,171.72 L538.64,173.75 L539.62,175.79 L540.59,177.83 L541.55,179.87 L542.49,181.91 L543.41,183.95 L544.33,185.98 L545.22,188.02 L546.11,190.06 L546.98,192.10 L547.84,194.14 L548.68,196.17 L549.52,198.21 L550.34,200.25 L551.15,202.29 L551.95,204.33 L552.74,206.36 L553.52,208.40 L554.29,210.44 L555.05,212.48 L555.80,214.52 L556.54,216.56 L557.27,218.59 L558.00,220.63 L558.71,222.67 L559.42,224.71 L560.12,226.75 L560.81,228.78 L561.49,230.82 L562.17,232.86 L562.83,234.90 L563.49,236.94 L564.14,238.97 L564.79,241.01 L565.42,243.05 L566.05,245.09 L566.67,247.13 L567.28,249.17 L567.88,251.20 L568.48,253.24 L569.07,255.28 L569.65,257.32 L570.22,259.36 L570.78,261.39 L571.33,263.43 L571.88,265.47 L572.41,267.51 L572.94,269.55 L573.46,271.58 L573.97,273.62 L574.47,275.66 L574.96,277.70 L575.44,279.74 L575.91,281.78 L576.37,283.81 L576.83,285.85 L577.28,287.89 L577.72,289.93 L578.15,291.97 L578.58,294.00 L579.00,296.04 L579.41,298.08 L579.82,300.12 L580.23,302.16 L580.64,304.19 L581.04,306.23 L581.45,308.27 L581.86,310.31 L582.28,312.35 L582.70,314.39 L583.13,316.42 L583.57,318.46 L584.03,320.50" stroke="#00ffff" stroke-width="1.85"/>
<path d="M435.20,60.90 L436.15,62.77 L437.12,64.64 L438.10,66.50 L439.09,68.37 L440.10,70.24 L441.11,72.11 L442.13,73.97 L443.15,75.84 L444.17,77.71 L445.20,79.58 L446.23,81.44 L447.26,83.31 L448.29,85.18 L449.32,87.05 L450.35,88.91 L451.38,90.78 L452.41,92.65 L453.44,94.52 L454.46,96.38 L455.49,98.25 L456.51,100.12 L457.54,101.99 L458.57,103.86 L459.59,105.72 L460.62,107.59 L461.65,109.46 L462.68,111.33 L463.71,113.19 L464.74,115.06 L465.78,116.93 L466.82,118.80 L467.87,120.66 L468.92,122.53 L469.98,124.40 L471.04,126.27 L472.11,128.13 L473.18,130.00 L474.26,131.87 L475.34,133.74 L476.44,135.61 L477.54,137.47 L478.64,139.34 L479.76,141.21 L480.88,143.08 L482.01,144.94 L483.14,146.81 L484.29,148.68 L485.44,150.55 L486.60,152.41 L487.76,154.28 L488.93,156.15 L490.11,158.02 L491.30,159.88 L492.48,161.75 L493.68,163.62 L494.88,165.49 L496.08,167.35 L497.29,169.22 L498.51,171.09 L499.72,172.96 L500.94,174.83 L502.16,176.69 L503.38,178.56 L504.60,180.43 L505.82,182.30 L507.04,184.16 L508.26,186.03 L509.48,187.90 L510.69,189.77 L511.91,191.63 L513.11,193.50 L514.32,195.37 L515.51,197.24 L516.70,199.10 L517.89,200.97 L519.07,202.84 L520.24,204.71 L521.40,206.57 L522.55,208.44 L523.69,210.31 L524.82,212.18 L525.94,214.05 L527.05,215.91 L528.15,217.78 L529.24,219.65 L530.31,221.52 L531.37,223.38 L532.42,225.25 L533.45,227.12 L534.47,228.99 L535.48,230.85 L536.47,232.72 L537.45,234.59 L538.41,236.46 L539.36,238.32 L540.29,240.19 L541.21,242.06 L542.12,243.93 L543.01,245.79 L543.89,247.66 L544.75,249.53 L545.60,251.40 L546.44,253.27 L547.26,255.13 L548.07,257.00 L548.87,258.87 L549.65,260.74 L550.42,262.60 L551.19,264.47 L551.93,266.34 L552.67,268.21 L553.40,270.07 L554.12,271.94 L554.82,273.81 L555.52,275.68 L556.20,277.54 L556.88,279.41 L557.55,281.28 L558.20,283.15 L558.85,285.02 L559.49,286.88 L560.11,288.75 L560.73,290.62 L561.34,292.49 L561.93,294.35 L562.51,296.22 L563.08,298.09 L563.64,299.96 L564.18,301.82 L564.70,303.69 L565.21,305.56 L565.70,307.43 L566.16,309.29 L566.60,311.16 L567.02,313.03 L567.40,314.90 L567.75,316.76 L568.07,318.63 L568.34,320.50" stroke="#0000ff" stroke-width="1.3" stroke-dasharray="1.7 4.28" stroke-dashoffset="0"/>
<path d="M435.20,93.00 L437.21,94.64 L439.19,96.27 L441.14,97.91 L443.05,99.55 L444.93,101.18 L446.78,102.82 L448.59,104.46 L450.38,106.09 L452.13,107.73 L453.86,109.37 L455.56,111.00 L457.23,112.64 L458.88,114.28 L460.49,115.91 L462.09,117.55 L463.66,119.19 L465.20,120.82 L466.72,122.46 L468.22,124.10 L469.69,125.73 L471.15,127.37 L472.58,129.01 L474.00,130.64 L475.39,132.28 L476.77,133.92 L478.13,135.55 L479.47,137.19 L480.79,138.83 L482.10,140.46 L483.39,142.10 L484.67,143.74 L485.93,145.37 L487.18,147.01 L488.41,148.65 L489.63,150.28 L490.84,151.92 L492.03,153.56 L493.21,155.19 L494.39,156.83 L495.54,158.47 L496.69,160.10 L497.83,161.74 L498.95,163.38 L500.07,165.01 L501.17,166.65 L502.27,168.29 L503.35,169.92 L504.43,171.56 L505.49,173.20 L506.55,174.83 L507.59,176.47 L508.63,178.11 L509.66,179.74 L510.68,181.38 L511.69,183.02 L512.69,184.65 L513.68,186.29 L514.66,187.93 L515.64,189.56 L516.60,191.20 L517.56,192.84 L518.51,194.47 L519.45,196.11 L520.38,197.75 L521.30,199.38 L522.21,201.02 L523.12,202.66 L524.01,204.29 L524.90,205.93 L525.78,207.57 L526.65,209.21 L527.51,210.84 L528.36,212.48 L529.21,214.12 L530.04,215.75 L530.87,217.39 L531.69,219.03 L532.50,220.66 L533.30,222.30 L534.10,223.94 L534.88,225.57 L535.66,227.21 L536.43,228.85 L537.19,230.48 L537.95,232.12 L538.69,233.76 L539.43,235.39 L540.16,237.03 L540.89,238.67 L541.61,240.30 L542.32,241.94 L543.02,243.58 L543.72,245.21 L544.41,246.85 L545.09,248.49 L545.77,250.12 L546.44,251.76 L547.11,253.40 L547.77,255.03 L548.43,256.67 L549.08,258.31 L549.72,259.94 L550.36,261.58 L551.00,263.22 L551.63,264.85 L552.26,266.49 L552.88,268.13 L553.50,269.76 L554.11,271.40 L554.72,273.04 L555.32,274.67 L555.92,276.31 L556.52,277.95 L557.11,279.58 L557.69,281.22 L558.28,282.86 L558.85,284.49 L559.42,286.13 L559.98,287.77 L560.54,289.40 L561.09,291.04 L561.63,292.68 L562.16,294.31 L562.69,295.95 L563.20,297.59 L563.70,299.22 L564.19,300.86 L564.67,302.50 L565.13,304.13 L565.57,305.77 L566.00,307.41 L566.41,309.04 L566.79,310.68 L567.15,312.32 L567.49,313.95 L567.80,315.59 L568.07,317.23 L568.32,318.86 L568.52,320.50" stroke="#00ff00" stroke-width="1.1" stroke-dasharray="10.1 8.5" stroke-dashoffset="0"/>
<path d="M435.20,89.60 L436.90,91.26 L438.62,92.92 L440.34,94.58 L442.07,96.24 L443.80,97.91 L445.53,99.57 L447.25,101.23 L448.97,102.89 L450.68,104.55 L452.39,106.21 L454.08,107.87 L455.75,109.53 L457.42,111.19 L459.07,112.86 L460.70,114.52 L462.32,116.18 L463.92,117.84 L465.50,119.50 L467.06,121.16 L468.61,122.82 L470.14,124.48 L471.65,126.15 L473.15,127.81 L474.63,129.47 L476.09,131.13 L477.53,132.79 L478.96,134.45 L480.37,136.11 L481.77,137.77 L483.15,139.43 L484.51,141.10 L485.86,142.76 L487.20,144.42 L488.53,146.08 L489.84,147.74 L491.14,149.40 L492.43,151.06 L493.70,152.72 L494.97,154.38 L496.22,156.05 L497.47,157.71 L498.70,159.37 L499.93,161.03 L501.15,162.69 L502.35,164.35 L503.55,166.01 L504.74,167.67 L505.92,169.34 L507.10,171.00 L508.26,172.66 L509.42,174.32 L510.57,175.98 L511.71,177.64 L512.85,179.30 L513.97,180.96 L515.09,182.62 L516.20,184.29 L517.30,185.95 L518.40,187.61 L519.48,189.27 L520.56,190.93 L521.63,192.59 L522.69,194.25 L523.74,195.91 L524.78,197.57 L525.81,199.24 L526.83,200.90 L527.84,202.56 L528.84,204.22 L529.83,205.88 L530.81,207.54 L531.77,209.20 L532.73,210.86 L533.67,212.53 L534.60,214.19 L535.52,215.85 L536.43,217.51 L537.32,219.17 L538.20,220.83 L539.07,222.49 L539.92,224.15 L540.76,225.81 L541.59,227.48 L542.41,229.14 L543.21,230.80 L543.99,232.46 L544.77,234.12 L545.53,235.78 L546.28,237.44 L547.01,239.10 L547.73,240.76 L548.44,242.43 L549.14,244.09 L549.82,245.75 L550.49,247.41 L551.16,249.07 L551.81,250.73 L552.44,252.39 L553.07,254.05 L553.69,255.72 L554.30,257.38 L554.90,259.04 L555.49,260.70 L556.08,262.36 L556.65,264.02 L557.22,265.68 L557.79,267.34 L558.34,269.00 L558.90,270.67 L559.45,272.33 L559.99,273.99 L560.53,275.65 L561.07,277.31 L561.61,278.97 L562.14,280.63 L562.67,282.29 L563.20,283.95 L563.73,285.62 L564.26,287.28 L564.79,288.94 L565.32,290.60 L565.84,292.26 L566.37,293.92 L566.89,295.58 L567.41,297.24 L567.92,298.91 L568.44,300.57 L568.95,302.23 L569.45,303.89 L569.94,305.55 L570.43,307.21 L570.90,308.87 L571.36,310.53 L571.81,312.19 L572.23,313.86 L572.64,315.52 L573.02,317.18 L573.37,318.84 L573.69,320.50" stroke="#ff00ff" stroke-width="1.05"/>
<path d="M435.30,47.70 L436.33,49.66 L437.38,51.63 L438.43,53.59 L439.50,55.55 L440.57,57.51 L441.64,59.48 L442.73,61.44 L443.81,63.40 L444.89,65.36 L445.98,67.33 L447.07,69.29 L448.15,71.25 L449.24,73.21 L450.33,75.18 L451.41,77.14 L452.50,79.10 L453.58,81.06 L454.67,83.03 L455.75,84.99 L456.83,86.95 L457.91,88.91 L459.00,90.88 L460.08,92.84 L461.17,94.80 L462.25,96.76 L463.34,98.73 L464.44,100.69 L465.53,102.65 L466.63,104.62 L467.73,106.58 L468.84,108.54 L469.95,110.50 L471.07,112.47 L472.19,114.43 L473.32,116.39 L474.45,118.35 L475.59,120.32 L476.74,122.28 L477.89,124.24 L479.05,126.20 L480.22,128.17 L481.39,130.13 L482.58,132.09 L483.77,134.05 L484.96,136.02 L486.17,137.98 L487.38,139.94 L488.60,141.90 L489.82,143.87 L491.05,145.83 L492.29,147.79 L493.53,149.75 L494.78,151.72 L496.03,153.68 L497.29,155.64 L498.55,157.61 L499.81,159.57 L501.08,161.53 L502.35,163.49 L503.62,165.46 L504.89,167.42 L506.17,169.38 L507.44,171.34 L508.71,173.31 L509.98,175.27 L511.25,177.23 L512.52,179.19 L513.78,181.16 L515.04,183.12 L516.29,185.08 L517.54,187.04 L518.78,189.01 L520.01,190.97 L521.24,192.93 L522.45,194.89 L523.66,196.86 L524.86,198.82 L526.05,200.78 L527.22,202.74 L528.39,204.71 L529.54,206.67 L530.68,208.63 L531.80,210.59 L532.91,212.56 L534.01,214.52 L535.09,216.48 L536.16,218.45 L537.22,220.41 L538.25,222.37 L539.28,224.33 L540.28,226.30 L541.27,228.26 L542.25,230.22 L543.20,232.18 L544.14,234.15 L545.07,236.11 L545.98,238.07 L546.87,240.03 L547.75,242.00 L548.61,243.96 L549.45,245.92 L550.28,247.88 L551.10,249.85 L551.90,251.81 L552.69,253.77 L553.46,255.73 L554.22,257.70 L554.96,259.66 L555.70,261.62 L556.42,263.58 L557.13,265.55 L557.83,267.51 L558.52,269.47 L559.20,271.44 L559.87,273.40 L560.52,275.36 L561.18,277.32 L561.82,279.29 L562.45,281.25 L563.08,283.21 L563.69,285.17 L564.31,287.14 L564.91,289.10 L565.50,291.06 L566.09,293.02 L566.67,294.99 L567.24,296.95 L567.81,298.91 L568.36,300.87 L568.90,302.84 L569.43,304.80 L569.95,306.76 L570.46,308.72 L570.95,310.69 L571.42,312.65 L571.87,314.61 L572.30,316.57 L572.71,318.54 L573.09,320.50" stroke="#ff0000" stroke-width="1.1" stroke-dasharray="2.5 3.55 10.85 3.65" stroke-dashoffset="0.5"/>
</g>
<path d="M97.6,36.1H141.8" stroke="#ff00ff" stroke-width="1.05"/>
<path d="M97.3,59.6H141" stroke="#ff0000" stroke-width="1.1" stroke-dasharray="2.5 3.7 10.7 3.8"/>
<path d="M293.2,35.9H337.7" stroke="#00ffff" stroke-width="1.9"/>
<path d="M470.6,36.1H503" stroke="#0000ff" stroke-width="1.3" stroke-dasharray="1.7 4.36"/>
<path d="M470.6,59.9H500.1" stroke="#00ff00" stroke-width="1.1" stroke-dasharray="10.8 7.7"/>
<path d="M45.55,14.10L45.55,1.21L44.53,1.21C44.10,2.67 42.89,3.52 41.05,3.77L41.05,4.96L43.97,4.96L43.97,14.10Z" fill="#000"/>
<text x="49.40 59.60" y="14.1" font-size="18">00</text>
<path d="M55.95,93.00L55.95,80.11L54.93,80.11C54.50,81.57 53.29,82.42 51.45,82.67L51.45,83.86L54.37,83.86L54.37,93.00Z" fill="#000"/>
<text x="59.80" y="93.0" font-size="18">0</text>
<path d="M66.75,171.40L66.75,158.51L65.73,158.51C65.30,159.97 64.09,160.82 62.25,161.07L62.25,162.26L65.17,162.26L65.17,171.40Z" fill="#000"/>
<path d="M61.95,250.20L61.95,237.31L60.93,237.31C60.50,238.77 59.29,239.62 57.45,239.87L57.45,241.06L60.37,241.06L60.37,250.20Z" fill="#000"/>
<text x="39.00 50.40" y="250.2" font-size="18">0.</text>
<path d="M61.95,328.70L61.95,315.81L60.93,315.81C60.50,317.27 59.29,318.12 57.45,318.37L57.45,319.56L60.37,319.56L60.37,328.70Z" fill="#000"/>
<text x="28.80 40.20 45.40" y="328.7" font-size="18">0.0</text>
<path d="M81.10,347.40L81.10,334.51L80.08,334.51C79.65,335.97 78.44,336.82 76.60,337.07L76.60,338.26L79.52,338.26L79.52,347.40Z" fill="#000"/>
<path d="M164.75,347.40L164.75,334.51L163.73,334.51C163.30,335.97 162.09,336.82 160.25,337.07L160.25,338.26L163.17,338.26L163.17,347.40Z" fill="#000"/>
<text x="168.70" y="347.4" font-size="18">0</text>
<path d="M258.70,347.40L258.70,334.51L257.68,334.51C257.25,335.97 256.04,336.82 254.20,337.07L254.20,338.26L257.12,338.26L257.12,347.40Z" fill="#000"/>
<path d="M342.35,347.40L342.35,334.51L341.33,334.51C340.90,335.97 339.69,336.82 337.85,337.07L337.85,338.26L340.77,338.26L340.77,347.40Z" fill="#000"/>
<text x="346.30" y="347.4" font-size="18">0</text>
<path d="M436.30,347.40L436.30,334.51L435.28,334.51C434.85,335.97 433.64,336.82 431.80,337.07L431.80,338.26L434.72,338.26L434.72,347.40Z" fill="#000"/>
<path d="M519.95,347.40L519.95,334.51L518.93,334.51C518.50,335.97 517.29,336.82 515.45,337.07L515.45,338.26L518.37,338.26L518.37,347.40Z" fill="#000"/>
<text x="523.90" y="347.4" font-size="18">0</text>
<path d="M604.20,347.40L604.20,334.51L603.18,334.51C602.75,335.97 601.54,336.82 599.70,337.07L599.70,338.26L602.62,338.26L602.62,347.40Z" fill="#000"/>
<text x="608.15 618.45" y="347.4" font-size="18">00</text>
<g transform="translate(0,179.5) rotate(-90)">
<text x="-1.0" y="16.1" font-size="17" class="sf">ξ</text>
<text x="9.4" y="14.8" font-size="18.6">(</text>
<text x="15.9" y="16.4" font-size="18">R</text>
<text x="29.0" y="14.8" font-size="18.6">)</text>
</g>
<text x="121.7" y="370.4" font-size="17" class="sf" textLength="11.9" lengthAdjust="spacingAndGlyphs" stroke="#000" stroke-width="0.2">R</text>
<text x="141.7" y="370.0" font-size="18.5" class="sf" textLength="6.2" lengthAdjust="spacingAndGlyphs" stroke="#000" stroke-width="0.2">[</text>
<text x="149.4" y="370.4" font-size="17" class="sf" textLength="10.3" lengthAdjust="spacingAndGlyphs" stroke="#000" stroke-width="0.2">h</text>
<path d="M161.4,362.6H166.6" stroke="#000" stroke-width="1.3"/>
<text x="168.0" y="365.4" font-size="9.2" class="sf" stroke="#000" stroke-width="0.5">1</text>
<text x="173.9" y="370.4" font-size="17" class="sf" textLength="15.6" lengthAdjust="spacingAndGlyphs" stroke="#000" stroke-width="0.2">M</text>
<text x="189.6" y="370.4" font-size="17" class="sf" textLength="9.8" lengthAdjust="spacingAndGlyphs" stroke="#000" stroke-width="0.2">p</text>
<text x="199.6" y="370.4" font-size="17" class="sf" textLength="9.2" lengthAdjust="spacingAndGlyphs" stroke="#000" stroke-width="0.2">c</text>
<text x="209.7" y="370.0" font-size="18.5" class="sf" textLength="6.2" lengthAdjust="spacingAndGlyphs" stroke="#000" stroke-width="0.2">]</text>
<text x="299.3" y="370.4" font-size="17" class="sf" textLength="11.9" lengthAdjust="spacingAndGlyphs" stroke="#000" stroke-width="0.2">R</text>
<text x="319.3" y="370.0" font-size="18.5" class="sf" textLength="6.2" lengthAdjust="spacingAndGlyphs" stroke="#000" stroke-width="0.2">[</text>
<text x="327.0" y="370.4" font-size="17" class="sf" textLength="10.3" lengthAdjust="spacingAndGlyphs" stroke="#000" stroke-width="0.2">h</text>
<path d="M339.0,362.6H344.2" stroke="#000" stroke-width="1.3"/>
<text x="345.6" y="365.4" font-size="9.2" class="sf" stroke="#000" stroke-width="0.5">1</text>
<text x="351.5" y="370.4" font-size="17" class="sf" textLength="15.6" lengthAdjust="spacingAndGlyphs" stroke="#000" stroke-width="0.2">M</text>
<text x="367.2" y="370.4" font-size="17" class="sf" textLength="9.8" lengthAdjust="spacingAndGlyphs" stroke="#000" stroke-width="0.2">p</text>
<text x="377.2" y="370.4" font-size="17" class="sf" textLength="9.2" lengthAdjust="spacingAndGlyphs" stroke="#000" stroke-width="0.2">c</text>
<text x="387.3" y="370.0" font-size="18.5" class="sf" textLength="6.2" lengthAdjust="spacingAndGlyphs" stroke="#000" stroke-width="0.2">]</text>
<text x="476.9" y="370.4" font-size="17" class="sf" textLength="11.9" lengthAdjust="spacingAndGlyphs" stroke="#000" stroke-width="0.2">R</text>
<text x="496.9" y="370.0" font-size="18.5" class="sf" textLength="6.2" lengthAdjust="spacingAndGlyphs" stroke="#000" stroke-width="0.2">[</text>
<text x="504.6" y="370.4" font-size="17" class="sf" textLength="10.3" lengthAdjust="spacingAndGlyphs" stroke="#000" stroke-width="0.2">h</text>
<path d="M516.6,362.6H521.8" stroke="#000" stroke-width="1.3"/>
<text x="523.2" y="365.4" font-size="9.2" class="sf" stroke="#000" stroke-width="0.5">1</text>
<text x="529.1" y="370.4" font-size="17" class="sf" textLength="15.6" lengthAdjust="spacingAndGlyphs" stroke="#000" stroke-width="0.2">M</text>
<text x="544.8" y="370.4" font-size="17" class="sf" textLength="9.8" lengthAdjust="spacingAndGlyphs" stroke="#000" stroke-width="0.2">p</text>
<text x="554.8" y="370.4" font-size="17" class="sf" textLength="9.2" lengthAdjust="spacingAndGlyphs" stroke="#000" stroke-width="0.2">c</text>
<text x="564.9" y="370.0" font-size="18.5" class="sf" textLength="6.2" lengthAdjust="spacingAndGlyphs" stroke="#000" stroke-width="0.2">]</text>
<path transform="translate(151.35,42.3) scale(0.84,1)" d="M3.4,-10.7L3.4,-9.1 M6.0,-8.7C4.4,-8.7 3.2,-8.7 2.5,-8.3C1.6,-7.8 1.2,-7.1 1.2,-6.4C1.2,-5.5 1.7,-4.7 2.7,-4.4C3.4,-4.2 4.4,-4.1 5.2,-4.1C3.9,-4.0 2.4,-3.5 1.3,-2.6C0.4,-1.9 0.1,-1.1 0.2,-0.5C0.3,0.2 1.0,0.5 2.0,0.6C2.9,0.7 4.0,0.8 4.6,1.2C5.2,1.6 5.2,2.3 4.7,2.8C4.2,3.2 3.4,3.1 2.8,2.8" fill="none" stroke="#ff00ff" stroke-width="1.25" stroke-linecap="round" stroke-linejoin="round"/>
<text x="158.4" y="37.199999999999996" font-size="9" class="sb" fill="#ff00ff">S</text>
<text x="158.2" y="46.3" font-size="9.5" class="sb" fill="#ff00ff" textLength="25.6" lengthAdjust="spacingAndGlyphs">mass</text>
<text x="183.5" y="42.3" font-size="16" class="sf" fill="#ff00ff" textLength="34.6" lengthAdjust="spacingAndGlyphs" stroke="#ff00ff" stroke-width="0.12">:FOG</text>
<path transform="translate(151.35,66.0) scale(0.84,1)" d="M3.4,-10.7L3.4,-9.1 M6.0,-8.7C4.4,-8.7 3.2,-8.7 2.5,-8.3C1.6,-7.8 1.2,-7.1 1.2,-6.4C1.2,-5.5 1.7,-4.7 2.7,-4.4C3.4,-4.2 4.4,-4.1 5.2,-4.1C3.9,-4.0 2.4,-3.5 1.3,-2.6C0.4,-1.9 0.1,-1.1 0.2,-0.5C0.3,0.2 1.0,0.5 2.0,0.6C2.9,0.7 4.0,0.8 4.6,1.2C5.2,1.6 5.2,2.3 4.7,2.8C4.2,3.2 3.4,3.1 2.8,2.8" fill="none" stroke="#ff0000" stroke-width="1.25" stroke-linecap="round" stroke-linejoin="round"/>
<text x="158.4" y="60.9" font-size="9" class="sb" fill="#ff0000">S</text>
<text x="158.2" y="70.0" font-size="9.5" class="sb" fill="#ff0000" textLength="25.6" lengthAdjust="spacingAndGlyphs">mass</text>
<text x="183.5" y="66.0" font-size="16" class="sf" fill="#ff0000" textLength="54.6" lengthAdjust="spacingAndGlyphs" stroke="#ff0000" stroke-width="0.12">:Kaiser</text>
<path transform="translate(514.85,42.3) scale(0.84,1)" d="M3.4,-10.7L3.4,-9.1 M6.0,-8.7C4.4,-8.7 3.2,-8.7 2.5,-8.3C1.6,-7.8 1.2,-7.1 1.2,-6.4C1.2,-5.5 1.7,-4.7 2.7,-4.4C3.4,-4.2 4.4,-4.1 5.2,-4.1C3.9,-4.0 2.4,-3.5 1.3,-2.6C0.4,-1.9 0.1,-1.1 0.2,-0.5C0.3,0.2 1.0,0.5 2.0,0.6C2.9,0.7 4.0,0.8 4.6,1.2C5.2,1.6 5.2,2.3 4.7,2.8C4.2,3.2 3.4,3.1 2.8,2.8" fill="none" stroke="#0000ff" stroke-width="1.25" stroke-linecap="round" stroke-linejoin="round"/>
<text x="521.9" y="37.199999999999996" font-size="9" class="sb" fill="#0000ff">R</text>
<text x="521.7" y="46.3" font-size="9.5" class="sb" fill="#0000ff" textLength="25.6" lengthAdjust="spacingAndGlyphs">mass</text>
<text x="547.5" y="42.3" font-size="16" class="sf" fill="#0000ff" textLength="24.3" lengthAdjust="spacingAndGlyphs" stroke="#0000ff" stroke-width="0.12">:PD</text>
<path transform="translate(514.85,66.0) scale(0.84,1)" d="M3.4,-10.7L3.4,-9.1 M6.0,-8.7C4.4,-8.7 3.2,-8.7 2.5,-8.3C1.6,-7.8 1.2,-7.1 1.2,-6.4C1.2,-5.5 1.7,-4.7 2.7,-4.4C3.4,-4.2 4.4,-4.1 5.2,-4.1C3.9,-4.0 2.4,-3.5 1.3,-2.6C0.4,-1.9 0.1,-1.1 0.2,-0.5C0.3,0.2 1.0,0.5 2.0,0.6C2.9,0.7 4.0,0.8 4.6,1.2C5.2,1.6 5.2,2.3 4.7,2.8C4.2,3.2 3.4,3.1 2.8,2.8" fill="none" stroke="#00ff00" stroke-width="1.25" stroke-linecap="round" stroke-linejoin="round"/>
<text x="521.9" y="60.9" font-size="9" class="sb" fill="#00ff00">R</text>
<text x="521.7" y="70.0" font-size="9.5" class="sb" fill="#00ff00" textLength="25.6" lengthAdjust="spacingAndGlyphs">mass</text>
<text x="547.5" y="66.0" font-size="16" class="sf" fill="#00ff00" textLength="45.0" lengthAdjust="spacingAndGlyphs" stroke="#00ff00" stroke-width="0.12">:BBKS</text>
<path transform="translate(346.65,42.5) scale(0.84,1)" d="M3.4,-10.7L3.4,-9.1 M6.0,-8.7C4.4,-8.7 3.2,-8.7 2.5,-8.3C1.6,-7.8 1.2,-7.1 1.2,-6.4C1.2,-5.5 1.7,-4.7 2.7,-4.4C3.4,-4.2 4.4,-4.1 5.2,-4.1C3.9,-4.0 2.4,-3.5 1.3,-2.6C0.4,-1.9 0.1,-1.1 0.2,-0.5C0.3,0.2 1.0,0.5 2.0,0.6C2.9,0.7 4.0,0.8 4.6,1.2C5.2,1.6 5.2,2.3 4.7,2.8C4.2,3.2 3.4,3.1 2.8,2.8" fill="none" stroke="#00ffff" stroke-width="1.25" stroke-linecap="round" stroke-linejoin="round"/>
<text x="353.8" y="36.9" font-size="8.3" class="sb" fill="#00ffff">LC</text>
<text x="353.8" y="46.2" font-size="9.5" class="sb" fill="#00ffff">cl</text>
<text x="362.3" y="45.2" font-size="9.5" class="sb" fill="#00ffff">·</text>
<text x="375.3" y="43.6" font-size="16.5" fill="#00ffff" stroke="#00ffff" stroke-width="0.35">&gt;</text>
<text x="386.0" y="42.5" font-size="16" class="sf" fill="#00ffff" textLength="9.6" lengthAdjust="spacingAndGlyphs" stroke="#00ffff" stroke-width="0.35">S</text>
<text x="395.6" y="47.0" font-size="9.5" class="sb" fill="#00ffff" textLength="15.2" lengthAdjust="spacingAndGlyphs">lim</text>
<text x="98.2" y="241.6" font-size="17" class="sf" textLength="11" lengthAdjust="spacingAndGlyphs">Ω</text>
<text x="109.4" y="246.0" font-size="10.8" class="sb">0</text>
<path d="M117.4,234.70H128.0M117.4,237.60H128.0" stroke="#000" stroke-width="1.15" fill="none"/>
<text x="130.30 141.00 146.20" y="241.5" font-size="17.6">1.0</text>
<text x="98.0" y="258.4" font-size="18" class="sf" textLength="10.6" lengthAdjust="spacingAndGlyphs">λ</text>
<text x="108.5" y="263.3" font-size="10.8" class="sb">0</text>
<path d="M116.7,251.50H126.7M116.7,254.40H126.7" stroke="#000" stroke-width="1.15" fill="none"/>
<text x="128.40 139.80 145.00" y="258.29999999999995" font-size="17.6">0.0</text>
<text x="106.4" y="278.5" font-size="18" class="sf" textLength="10.8" lengthAdjust="spacingAndGlyphs">h</text>
<path d="M119.6,271.60H130.0M119.6,274.50H130.0" stroke="#000" stroke-width="1.15" fill="none"/>
<text x="131.60 143.00 148.20" y="278.4" font-size="17.6">0.5</text>
<text x="98.3" y="295.1" font-size="17.5" class="sf" font-style="italic">σ</text>
<text x="109.0" y="300.4" font-size="10.8" class="sb">8</text>
<path d="M117.1,288.20H127.1M117.1,291.10H127.1" stroke="#000" stroke-width="1.15" fill="none"/>
<text x="128.80 140.20 145.40 155.40" y="295.0" font-size="17.6">0.56</text>
<text x="275.8" y="241.6" font-size="17" class="sf" textLength="11" lengthAdjust="spacingAndGlyphs">Ω</text>
<text x="287.0" y="246.0" font-size="10.8" class="sb">0</text>
<path d="M295.0,234.70H305.6M295.0,237.60H305.6" stroke="#000" stroke-width="1.15" fill="none"/>
<text x="307.20 318.60 323.80" y="241.5" font-size="17.6">0.3</text>
<text x="275.6" y="258.4" font-size="18" class="sf" textLength="10.6" lengthAdjust="spacingAndGlyphs">λ</text>
<text x="286.1" y="263.3" font-size="10.8" class="sb">0</text>
<path d="M294.3,251.50H304.3M294.3,254.40H304.3" stroke="#000" stroke-width="1.15" fill="none"/>
<text x="306.00 317.40 322.60" y="258.29999999999995" font-size="17.6">0.7</text>
<text x="284.0" y="278.5" font-size="18" class="sf" textLength="10.8" lengthAdjust="spacingAndGlyphs">h</text>
<path d="M297.2,271.60H307.6M297.2,274.50H307.6" stroke="#000" stroke-width="1.15" fill="none"/>
<text x="309.20 320.60 325.80" y="278.4" font-size="17.6">0.7</text>
<text x="275.9" y="295.1" font-size="17.5" class="sf" font-style="italic">σ</text>
<text x="286.6" y="300.4" font-size="10.8" class="sb">8</text>
<path d="M294.7,288.20H304.7M294.7,291.10H304.7" stroke="#000" stroke-width="1.15" fill="none"/>
<text x="307.10 317.80 323.00 333.00" y="295.0" font-size="17.6">1.04</text>
<text x="453.4" y="241.6" font-size="17" class="sf" textLength="11" lengthAdjust="spacingAndGlyphs">Ω</text>
<text x="464.6" y="246.0" font-size="10.8" class="sb">0</text>
<path d="M472.6,234.70H483.2M472.6,237.60H483.2" stroke="#000" stroke-width="1.15" fill="none"/>
<text x="484.80 496.20 501.40 511.40" y="241.5" font-size="17.6">0.45</text>
<text x="453.2" y="258.4" font-size="18" class="sf" textLength="10.6" lengthAdjust="spacingAndGlyphs">λ</text>
<text x="463.7" y="263.3" font-size="10.8" class="sb">0</text>
<path d="M471.9,251.50H481.9M471.9,254.40H481.9" stroke="#000" stroke-width="1.15" fill="none"/>
<text x="483.60 495.00 500.20" y="258.29999999999995" font-size="17.6">0.0</text>
<text x="461.6" y="278.5" font-size="18" class="sf" textLength="10.8" lengthAdjust="spacingAndGlyphs">h</text>
<path d="M474.8,271.60H485.2M474.8,274.50H485.2" stroke="#000" stroke-width="1.15" fill="none"/>
<text x="486.80 498.20 503.40" y="278.4" font-size="17.6">0.7</text>
<text x="453.5" y="295.1" font-size="17.5" class="sf" font-style="italic">σ</text>
<text x="464.2" y="300.4" font-size="10.8" class="sb">8</text>
<path d="M472.3,288.20H482.3M472.3,291.10H482.3" stroke="#000" stroke-width="1.15" fill="none"/>
<text x="484.00 495.40 500.60 510.60" y="295.0" font-size="17.6">0.83</text>
</svg></body></html>
